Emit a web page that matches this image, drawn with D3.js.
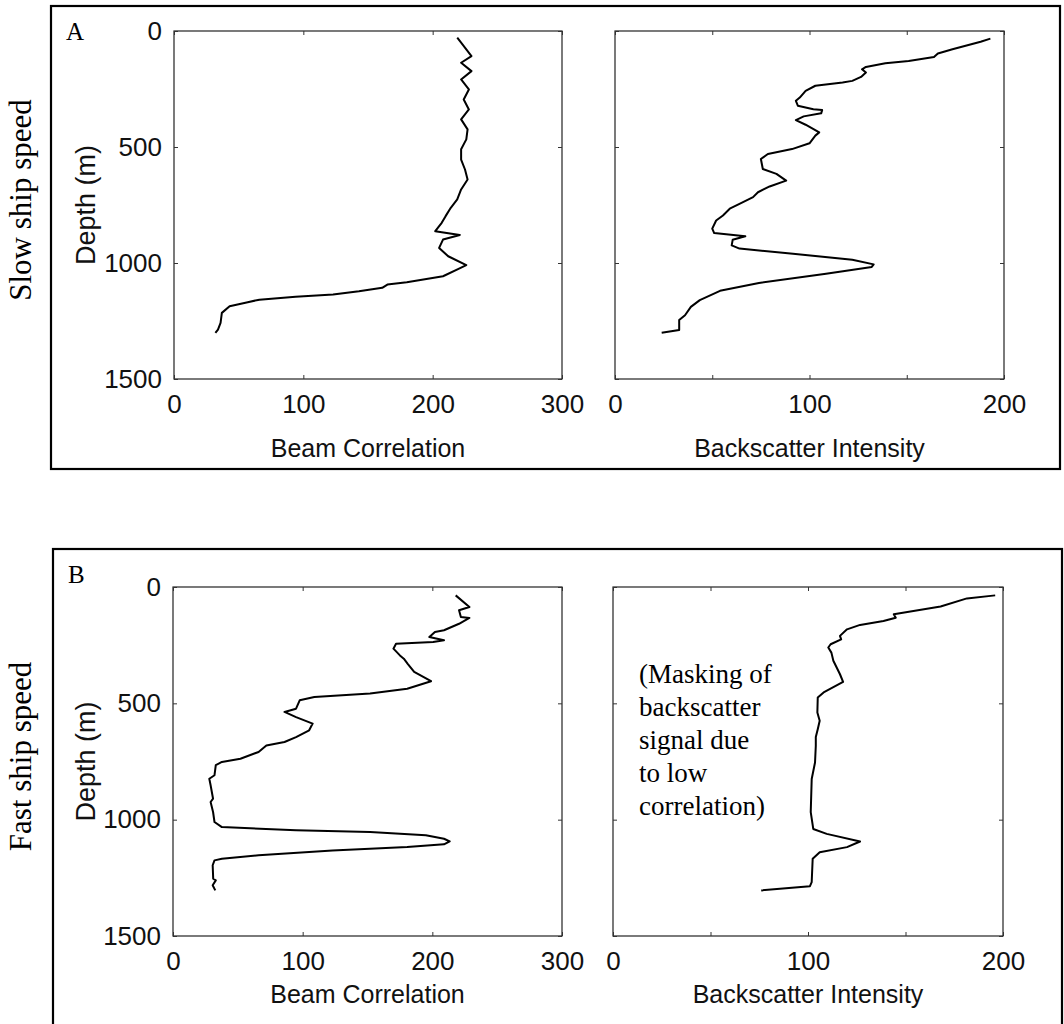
<!DOCTYPE html>
<html>
<head>
<meta charset="utf-8">
<script src="https://cdn.jsdelivr.net/npm/d3@7"></script>
<style>
  body { margin: 0; background: #fff; }
  svg { display: block; }
  .tick text { font-family: "Liberation Sans", Arial, sans-serif; font-size: 26px; fill: #111; }
  .tick line { stroke: #333; }
</style>
</head>
<body>
<div id="chart"></div>
<script>
// Slow ship speed (A)
var beamDepthA = [29, 50, 108, 137, 173, 209, 252, 295, 338, 381, 424, 467, 510, 554, 597, 640, 683, 726, 762, 798, 827, 863, 879, 899, 935, 971, 1009, 1025, 1057, 1083, 1093, 1107, 1122, 1136, 1146, 1158, 1169, 1186, 1215, 1258, 1287, 1301]
var beamA = [219, 222, 230, 222, 230, 222, 228, 224, 228, 222, 227, 226, 222, 222, 225, 227, 222, 219, 214, 210, 207, 202, 221, 208, 205, 212, 226, 220, 208, 180, 165, 161, 143, 123, 94, 66, 57, 43, 37, 36, 34, 32]

var backDepthA = [33, 46, 79, 97, 112, 129, 139, 155, 165, 179, 198, 215, 222, 236, 258, 287, 301, 322, 337, 341, 355, 368, 384, 404, 437, 451, 484, 509, 530, 552, 595, 616, 645, 670, 695, 716, 745, 766, 795, 817, 852, 871, 885, 900, 924, 938, 960, 986, 1006, 1017, 1046, 1086, 1120, 1160, 1189, 1225, 1246, 1289, 1301]
var backA = [193, 188, 173.5, 166, 164, 151, 139, 129, 127, 129, 126.5, 122, 117, 103, 98, 95, 93, 94, 102, 106.5, 106, 97, 93, 98, 105, 103, 100, 91, 78.6, 75, 76, 83, 88, 79.5, 73.5, 71, 64, 59, 55.5, 52, 50, 51, 67, 60.5, 60, 64, 91.5, 122, 133, 132, 108.5, 74, 54, 43.6, 39, 36, 33, 33, 24]

// Fast ship speed (B)
var beamDepthB = [36, 86, 100, 129, 133, 158, 186, 193, 215, 229, 236, 244, 265, 294, 308, 330, 365, 405, 437, 458, 473, 487, 523, 537, 559, 587, 616, 645, 666, 681, 709, 738, 752, 766, 809, 824, 852, 910, 924, 967, 1010, 1032, 1046, 1053, 1067, 1082, 1093, 1106, 1117, 1132, 1153, 1168, 1175, 1196, 1254, 1261, 1282, 1304]
var beamB = [218, 228.6, 220.6, 222, 228.6, 220.6, 209, 202, 197.7, 209, 200.6, 172, 170, 175, 178, 181, 186, 199, 180.6, 152, 109, 97.7, 94.9, 86, 94.9, 107.7, 105, 94.9, 86, 72, 66, 52, 37.7, 33, 32, 28, 29, 30.9, 29, 30.9, 32, 37.7, 94.9, 152, 195, 209, 213.4, 209, 180.6, 123, 66, 37.7, 32, 30.6, 31, 33, 30.6, 32.6]

var backDepthB = [36, 49, 84, 117, 132, 146, 163, 182, 210, 225, 246, 260, 282, 317, 375, 408, 453, 475, 539, 575, 611, 645, 682, 754, 825, 968, 1040, 1061, 1094, 1118, 1140, 1168, 1268, 1286, 1304]
var backB = [196, 181.5, 168, 144, 145, 138.7, 126.7, 120, 116.4, 117, 111.6, 110.4, 112, 113, 116.4, 118, 108, 105, 104.8, 106, 105, 104, 104, 103.6, 101.9, 101.4, 102.7, 109.6, 126.7, 120, 106, 102.4, 101.9, 101, 76]

var depthTicks = [0, 500, 1000, 1500]
var beamTicks = [0, 100, 200, 300]
var backTicks = [0, 50, 100, 150, 200]
var maskNote = ["(Masking of", "backscatter", "signal due", "to low", "correlation)"]

var width = 1064, height = 1024

var svg = d3.select("#chart")
  .append("svg")
    .attr("width", width)
    .attr("height", height)

var panels = [
  { letter: "A", row: "Slow ship speed", box: [51, 6, 1009, 463], top: 31, bottom: 379, titleY: 457,
    left: { x0: 174, x1: 562, depth: beamDepthA, vals: beamA },
    right: { x0: 615, x1: 1004, depth: backDepthA, vals: backA } },
  { letter: "B", row: "Fast ship speed", box: [53, 549, 1009, 500], top: 587, bottom: 936, titleY: 1003,
    left: { x0: 173, x1: 562, depth: beamDepthB, vals: beamB },
    right: { x0: 613, x1: 1003, depth: backDepthB, vals: backB } }
]

var drawAxes = function(p, side, domainMax, ticks, title, withDepthLabels) {
  var x = d3.scaleLinear().domain([0, domainMax]).range([side.x0, side.x1])
  var y = d3.scaleLinear().domain([0, 1500]).range([p.top, p.bottom])
  var fmt = d => d % 100 === 0 ? d : ""

  svg.append("rect")
    .attr("x", side.x0).attr("y", p.top)
    .attr("width", side.x1 - side.x0).attr("height", p.bottom - p.top)
    .attr("fill", "none").attr("stroke", "#222").attr("stroke-width", 1.2)

  var gb = svg.append("g").attr("transform", `translate(0,${p.bottom})`)
    .call(d3.axisBottom(x).tickValues(ticks).tickSize(-4).tickPadding(16).tickFormat(fmt))
  var gt = svg.append("g").attr("transform", `translate(0,${p.top})`)
    .call(d3.axisTop(x).tickValues(ticks).tickSize(-4).tickFormat(""))
  var gl = svg.append("g").attr("transform", `translate(${side.x0},0)`)
    .call(d3.axisLeft(y).tickValues(depthTicks).tickSize(-4).tickPadding(12)
      .tickFormat(withDepthLabels ? d3.format("d") : ""))
  var gr = svg.append("g").attr("transform", `translate(${side.x1},0)`)
    .call(d3.axisRight(y).tickValues(depthTicks).tickSize(-4).tickFormat(""))
  ;[gb, gt, gl, gr].forEach(g => g.select(".domain").remove())

  svg.append("path")
    .datum(d3.zip(side.depth, side.vals))
    .attr("fill", "none")
    .attr("stroke", "#000")
    .attr("stroke-width", 2)
    .attr("stroke-linejoin", "round")
    .attr("d", d3.line().x(d => x(d[1])).y(d => y(d[0])))

  svg.append("text")
    .attr("x", (side.x0 + side.x1) / 2)
    .attr("y", p.titleY)
    .attr("text-anchor", "middle")
    .style("font-family", "'Liberation Sans', Arial, sans-serif")
    .style("font-size", "25px")
    .style("fill", "#111")
    .text(title)
}

panels.forEach(p => {
  svg.append("rect")
    .attr("x", p.box[0]).attr("y", p.box[1])
    .attr("width", p.box[2]).attr("height", p.box[3])
    .attr("fill", "none").attr("stroke", "#000").attr("stroke-width", 2.2)

  svg.append("text")
    .attr("x", p.box[0] + 15).attr("y", p.box[1] + 34)
    .style("font-family", "'Liberation Serif', 'Times New Roman', serif")
    .style("font-size", "25px")
    .text(p.letter)

  var mid = (p.top + p.bottom) / 2
  svg.append("text")
    .attr("transform", `translate(31,${mid - 5}) rotate(-90)`)
    .attr("text-anchor", "middle")
    .style("font-family", "'Liberation Serif', 'Times New Roman', serif")
    .style("font-size", "31px")
    .text(p.row)

  svg.append("text")
    .attr("transform", `translate(95,${mid}) rotate(-90)`)
    .attr("text-anchor", "middle")
    .style("font-family", "'Liberation Sans', Arial, sans-serif")
    .style("font-size", "27px")
    .style("fill", "#111")
    .text("Depth (m)")

  drawAxes(p, p.left, 300, beamTicks, "Beam Correlation", true)
  drawAxes(p, p.right, 200, backTicks, "Backscatter Intensity", false)
})

// note inside the fast backscatter panel
svg.append("text")
  .style("font-family", "'Liberation Serif', 'Times New Roman', serif")
  .style("font-size", "27px")
  .selectAll("tspan")
  .data(maskNote)
  .join("tspan")
    .attr("x", 639)
    .attr("y", (d, i) => 683 + i * 33)
    .text(d => d)
</script>
</body>
</html>
